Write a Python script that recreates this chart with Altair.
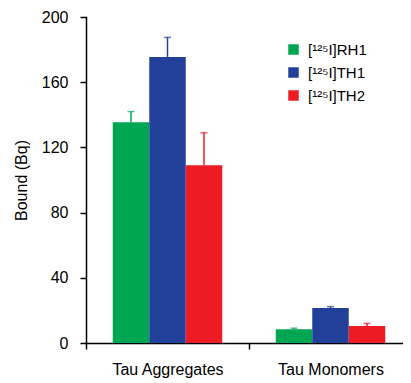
import altair as alt
import pandas as pd

categories = ["Tau Aggregates", "Tau Monomers"]
series = ["[¹²⁵I]RH1", "[¹²⁵I]TH1", "[¹²⁵I]TH2"]
colors = ["#00A651", "#22409A", "#ED1C24"]
agg_means = [135.5, 175.5, 109.0]
agg_errs = [6.5, 12.0, 20.0]
mono_means = [8.5, 21.5, 10.5]
mono_errs = [0.6, 0.8, 1.5]
y_ticks = [0, 40, 80, 120, 160, 200]

rows = []
for cat, means, errs in [(categories[0], agg_means, agg_errs), (categories[1], mono_means, mono_errs)]:
    for s, m, e in zip(series, means, errs):
        rows.append({"cat": cat, "series": s, "mean": m, "top": m + e})
df = pd.DataFrame(rows)

x = alt.X("cat:N", sort=categories, title=None,
          scale=alt.Scale(paddingInner=0, paddingOuter=0, range=[0, 326]),
          axis=alt.Axis(labelAngle=0, tickBand="extent", labelFontSize=16,
                        labelPadding=12, tickSize=6, domainWidth=1.5, tickWidth=1.5,
                        domainColor="black", tickColor="black", labelColor="black",
                        labelFont="Liberation Sans"))
xo = alt.XOffset("series:N", sort=series, scale=alt.Scale(paddingInner=0, paddingOuter=0.733))
color_scale = alt.Scale(domain=series, range=colors)

bars = alt.Chart(df).mark_bar().encode(
    x=x, xOffset=xo,
    y=alt.Y("mean:Q", title="Bound (Bq)",
            scale=alt.Scale(domain=[0, 200], nice=False),
            axis=alt.Axis(values=y_ticks, grid=False, labelFontSize=16, titleFontSize=16,
                          titleFontWeight="normal", labelPadding=12, tickSize=6,
                          titlePadding=12, domainWidth=1.5, tickWidth=1.5,
                          domainColor="black", tickColor="black", labelColor="black",
                          titleColor="black", labelFont="Liberation Sans",
                          titleFont="Liberation Sans")),
    color=alt.Color("series:N", sort=series, scale=color_scale, title=None,
                    legend=alt.Legend(orient="none", legendX=200, legendY=25,
                                      symbolType="square", symbolSize=110,
                                      symbolStrokeWidth=0, labelFontSize=15,
                                      labelFont="Liberation Sans", labelColor="black",
                                      rowPadding=7, padding=0, labelOffset=7)),
)

rules = alt.Chart(df).mark_rule(strokeWidth=1.5).encode(
    x=x, xOffset=xo,
    y="mean:Q", y2="top:Q",
    color=alt.Color("series:N", sort=series, scale=color_scale, legend=None),
)

caps = alt.Chart(df).mark_tick(size=7, thickness=1.5).encode(
    x=x, xOffset=xo,
    y="top:Q",
    color=alt.Color("series:N", sort=series, scale=color_scale, legend=None),
)

chart = alt.layer(bars, rules, caps).properties(
    width=317, height=326,
    autosize=alt.AutoSizeParams(type="none"),
    padding={"left": 78, "top": 9, "right": 0, "bottom": 36},
).configure_view(stroke=None).configure_axis(domainCap="square")

chart.save("out.html", embed_options={"renderer": "svg", "actions": False})
